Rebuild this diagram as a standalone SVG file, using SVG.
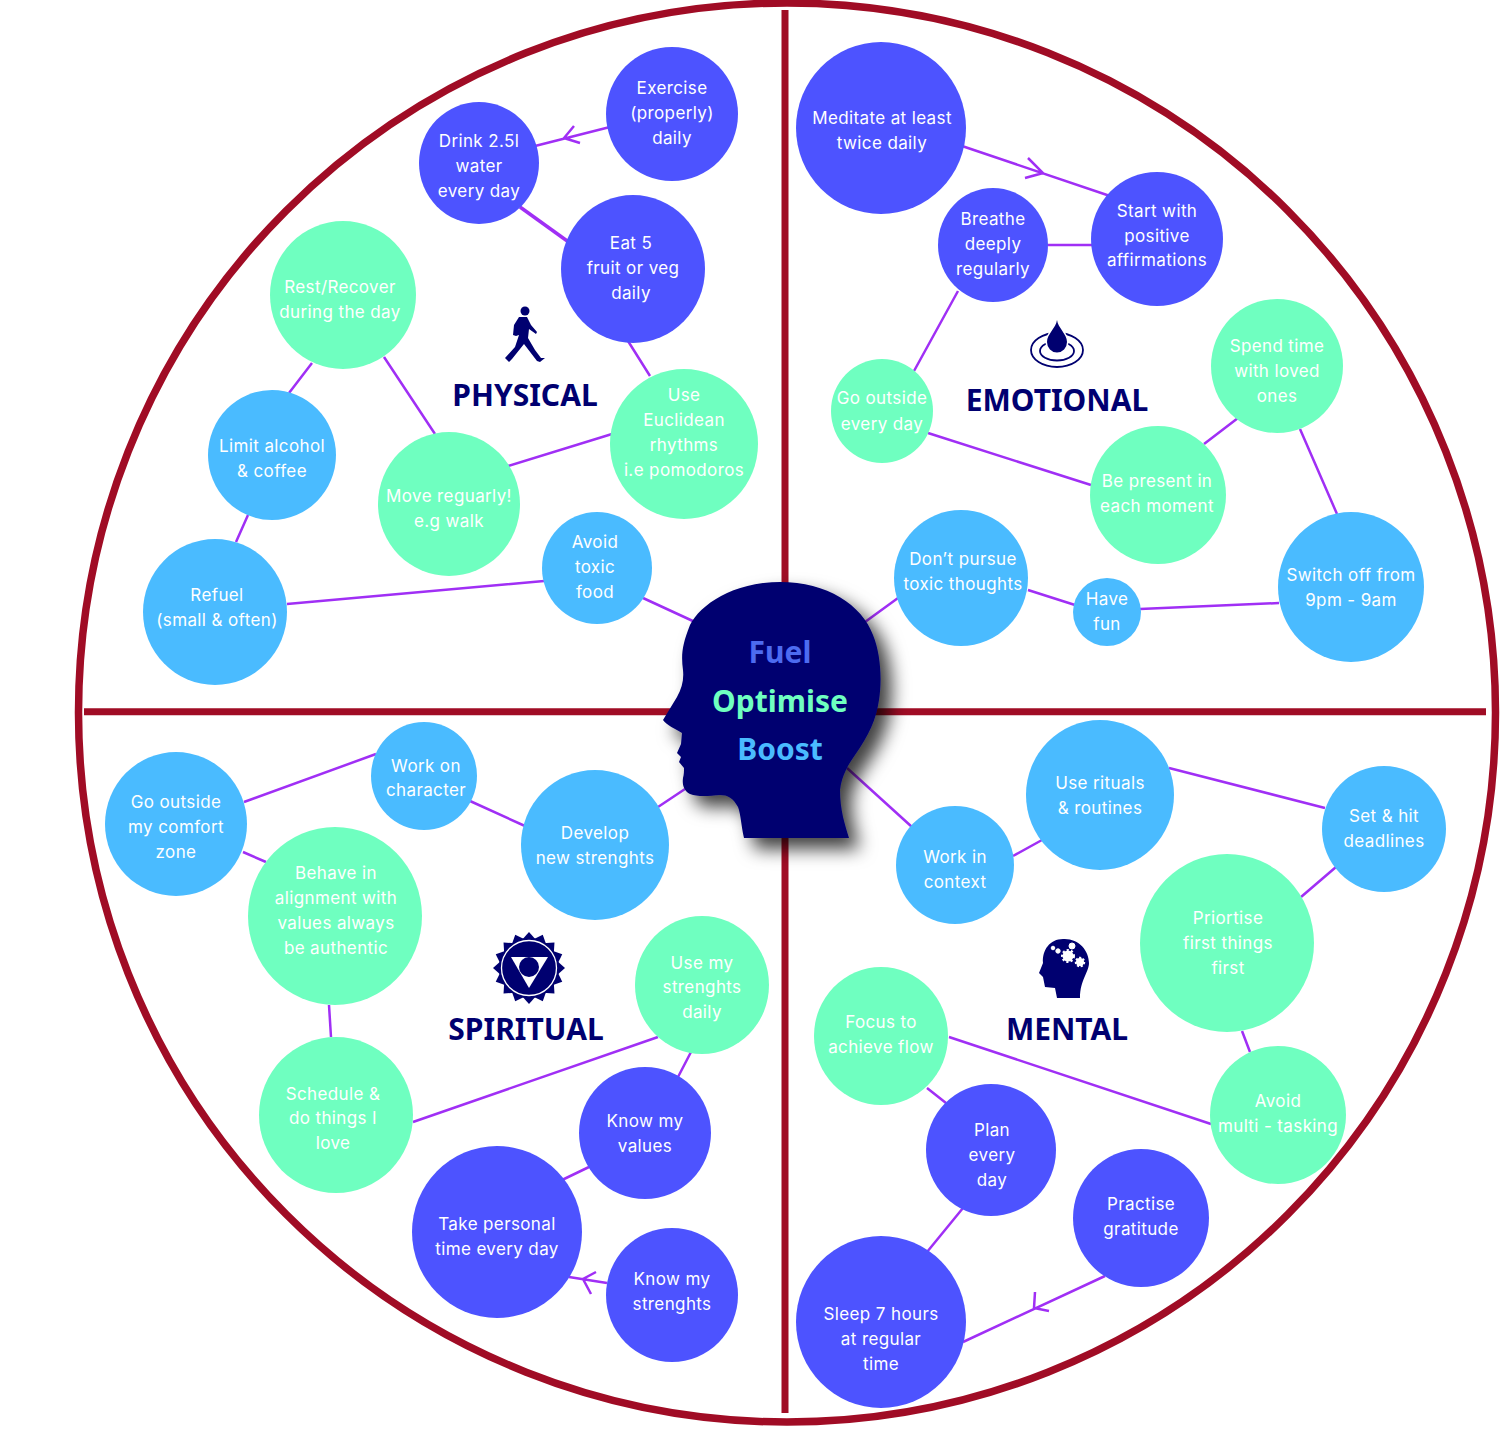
<svg xmlns="http://www.w3.org/2000/svg" width="1500" height="1447" viewBox="0 0 1500 1447">
<style>
.v{fill:#4d53ff}.g{fill:#6fffc0}.s{fill:#4abbff}
text{font-family:"Inter","Open Sans","Liberation Sans",sans-serif;font-size:17px;letter-spacing:.38px;fill:#fff;text-anchor:middle}
.h{font-family:"Noto Sans","Open Sans",sans-serif;font-weight:700;font-size:30px;letter-spacing:0;fill:#000070}
.c{font-family:"Noto Sans","Open Sans",sans-serif;font-weight:700;font-size:30px;letter-spacing:0}
#connectors path{fill:none;stroke:#a02ff5;stroke-width:2.5}
.n{fill:#000070}
</style>
<defs>
<filter id="shadow" x="-20%" y="-20%" width="150%" height="150%"><feDropShadow dx="11" dy="11" stdDeviation="9" flood-color="#000" flood-opacity="0.75"/></filter>
<polygon id="tip" points="-8,-27 0,-36 8,-27" fill="#000070"/>
</defs>
<rect width="1500" height="1447" fill="#fff"/>
<g id="wheel" fill="none" stroke="#a00c25">
<ellipse cx="787" cy="712.500" rx="708.500" ry="709.500" stroke-width="7.500"/>
<path stroke-width="7" d="M785 10V1413M84 711.700H1486"/>
</g>
<g id="connectors">
<path d="M610 127L535 146M574 126L564 138L580 143"/>
<path d="M520 207L570 243" style="stroke-width:3.500"/>
<path d="M628 341L650 376M612 434L508 466M435 434L384 357M312 363L289 393M248 515L236 542M287 604L544 581M643 598L695 622"/>
<path d="M962 146L1110 196M1028 158L1043 173L1025 178"/>
<path d="M1048 245H1092M958 291L914 371M928 433L1091 485M1204 444L1238 418M1300 429L1337 514M1279 603L1140 609M1075 605L1028 590M898 598L865 622"/>
<path d="M685 789L658 807M525 826L470 801M376 754L244 802M243 852L266 862M329 1005L331 1037M413 1122L658 1037M691 1052L678 1077M589 1167L562 1180"/>
<path d="M607 1283L569 1277M596 1272L583 1279L591 1294"/>
<path d="M847 768L912 827M1013 856L1042 840M1169 768L1325 808M1336 867L1301 897M1242 1031L1250 1052M1211 1124L949 1037M927 1088L946 1103M963 1208L927 1252"/>
<path d="M963 1342L1105 1276M1035 1292L1034 1308L1049 1311"/>
</g>
<g id="head">
<path class="n" filter="url(#shadow)" d="M744 838C741 825 741 815 738 807C733 798 728 795 720 795C708 796 698 797 690 794C684 791 682 785 683 778C684 774 684 771 684 768L679 762L681 757L677 753L681 744L682 733C676 729 666 725 663 720L677 697C682 688 684 680 683 670C681 655 682 645 690 625C700 605 733 582 780 582C827 582 862 605 873 635C881 655 882 680 879 700C876 720 869 735 855 755C848 765 842 775 840 790C840 810 845 825 849 838Z"/>
<text class="c" x="780" y="663" style="fill:#4d6bf0">Fuel</text>
<text class="c" x="780" y="712" style="fill:#6fffc0">Optimise</text>
<text class="c" x="780" y="760" style="fill:#4abbff">Boost</text>
</g>
<g id="physical-title">
<circle class="n" cx="525" cy="311" r="4.500"/>
<path class="n" d="M519 317L527 317L531 325L537 332L536 334L529 329L528 338L535 350L541 358L545 358L540 362L537 361L524 344L512 359L509 362L505 358L515 347L519 335L516 336L513 335L514 325Z"/>
<text class="h" x="525" y="406">PHYSICAL</text>
</g>
<g id="emotional-title">
<ellipse cx="1057" cy="350" rx="26" ry="17" fill="none" stroke="#000070" stroke-width="1.800"/>
<ellipse cx="1057" cy="351" rx="17" ry="9.500" fill="none" stroke="#000070" stroke-width="1.800"/>
<path class="n" stroke="#fff" stroke-width="3" paint-order="stroke" d="M1057 320C1058 328 1067 334 1067 342A10 10.500 0 0 1 1047 342C1047 334 1056 328 1057 320Z"/>
<text class="h" x="1057" y="411">EMOTIONAL</text>
</g>
<g id="spiritual-title">
<use href="#tip" transform="translate(529 968)"/><use href="#tip" transform="translate(529 968) rotate(22.500)"/><use href="#tip" transform="translate(529 968) rotate(45)"/><use href="#tip" transform="translate(529 968) rotate(67.500)"/><use href="#tip" transform="translate(529 968) rotate(90)"/><use href="#tip" transform="translate(529 968) rotate(112.500)"/><use href="#tip" transform="translate(529 968) rotate(135)"/><use href="#tip" transform="translate(529 968) rotate(157.500)"/><use href="#tip" transform="translate(529 968) rotate(180)"/><use href="#tip" transform="translate(529 968) rotate(202.500)"/><use href="#tip" transform="translate(529 968) rotate(225)"/><use href="#tip" transform="translate(529 968) rotate(247.500)"/><use href="#tip" transform="translate(529 968) rotate(270)"/><use href="#tip" transform="translate(529 968) rotate(292.500)"/><use href="#tip" transform="translate(529 968) rotate(315)"/><use href="#tip" transform="translate(529 968) rotate(337.500)"/>
<circle class="n" cx="529" cy="968" r="30"/>
<circle class="n" cx="529" cy="968" r="27.500" stroke="#fff" stroke-width="1.300"/>
<polygon points="511,957 548,957 529,988" fill="#fff"/>
<circle class="n" cx="529" cy="967" r="10"/>
<text class="h" x="526" y="1040">SPIRITUAL</text>
</g>
<g id="mental-title">
<path class="n" d="M1080 998L1057 998L1055 988L1045 987L1043 977L1039 973L1043 963C1042 950 1050 939 1063 939C1078 938 1089 950 1089 963C1089 972 1080 980 1080 998Z"/>
<g fill="#fff" stroke="#fff"><circle cx="1068" cy="956" r="5.500" stroke-width="3" stroke-dasharray="2 2"/><circle cx="1080" cy="962" r="4" stroke-width="2.500" stroke-dasharray="2 1.500"/><circle cx="1072" cy="946" r="3"/><circle cx="1058" cy="951" r="2.200"/><circle cx="1053" cy="948" r="1.800"/></g>
<text class="h" x="1067" y="1040">MENTAL</text>
</g>
<g id="n-exercise"><ellipse class="v" cx="672" cy="114" rx="66" ry="67"/><text x="672" y="94">Exercise</text><text x="672" y="119">(properly)</text><text x="672" y="144">daily</text></g>
<g id="n-drink"><ellipse class="v" cx="479" cy="163" rx="60" ry="61"/><text x="479" y="147">Drink 2.5l</text><text x="479" y="172">water</text><text x="479" y="197">every day</text></g>
<g id="n-eat"><ellipse class="v" cx="633" cy="269" rx="72" ry="74"/><text x="631" y="249">Eat 5</text><text x="633" y="274">fruit or veg</text><text x="631" y="299">daily</text></g>
<g id="n-rest"><ellipse class="g" cx="343" cy="295" rx="73" ry="74"/><text x="340" y="293">Rest/Recover</text><text x="340" y="318">during the day</text></g>
<g id="n-euclid"><ellipse class="g" cx="684" cy="444" rx="74" ry="75"/><text x="684" y="401">Use</text><text x="684" y="426">Euclidean</text><text x="684" y="451">rhythms</text><text x="684" y="476">i.e pomodoros</text></g>
<g id="n-limit"><ellipse class="s" cx="272" cy="455" rx="64" ry="65"/><text x="272" y="452">Limit alcohol</text><text x="272" y="477">&amp; coffee</text></g>
<g id="n-move"><ellipse class="g" cx="449" cy="504" rx="71" ry="72"/><text x="449" y="502">Move reguarly!</text><text x="449" y="527">e.g walk</text></g>
<g id="n-avoid-food"><ellipse class="s" cx="597" cy="568" rx="55" ry="56"/><text x="595" y="548">Avoid</text><text x="595" y="573">toxic</text><text x="595" y="598">food</text></g>
<g id="n-refuel"><ellipse class="s" cx="215" cy="612" rx="72" ry="73"/><text x="217" y="601">Refuel</text><text x="217" y="626">(small &amp; often)</text></g>
<g id="n-meditate"><ellipse class="v" cx="881" cy="128" rx="85" ry="86"/><text x="882" y="124">Meditate at least</text><text x="882" y="149">twice daily</text></g>
<g id="n-breathe"><ellipse class="v" cx="993" cy="245" rx="55" ry="57"/><text x="993" y="225">Breathe</text><text x="993" y="250">deeply</text><text x="993" y="275">regularly</text></g>
<g id="n-start"><ellipse class="v" cx="1157" cy="239" rx="66" ry="67"/><text x="1157" y="217">Start with</text><text x="1157" y="242">positive</text><text x="1157" y="266">affirmations</text></g>
<g id="n-spend"><ellipse class="g" cx="1277" cy="366" rx="66" ry="67"/><text x="1277" y="352">Spend time</text><text x="1277" y="377">with loved</text><text x="1277" y="402">ones</text></g>
<g id="n-outside"><ellipse class="g" cx="882" cy="411" rx="51" ry="52"/><text x="882" y="404">Go outside</text><text x="882" y="430">every day</text></g>
<g id="n-present"><ellipse class="g" cx="1158" cy="495" rx="68" ry="69"/><text x="1157" y="487">Be present in</text><text x="1157" y="512">each moment</text></g>
<g id="n-switch"><ellipse class="s" cx="1351" cy="587" rx="73" ry="75"/><text x="1351" y="581">Switch off from</text><text x="1351" y="606">9pm - 9am</text></g>
<g id="n-thoughts"><ellipse class="s" cx="961" cy="578" rx="67" ry="68"/><text x="963" y="565">Don’t pursue</text><text x="963" y="590">toxic thoughts</text></g>
<g id="n-fun"><ellipse class="s" cx="1107" cy="612" rx="34" ry="34"/><text x="1107" y="605">Have</text><text x="1107" y="630">fun</text></g>
<g id="n-comfort"><ellipse class="s" cx="176" cy="824" rx="71" ry="72"/><text x="176" y="808">Go outside</text><text x="176" y="833">my comfort</text><text x="176" y="858">zone</text></g>
<g id="n-character"><ellipse class="s" cx="424" cy="776" rx="53" ry="54"/><text x="426" y="772">Work on</text><text x="426" y="796">character</text></g>
<g id="n-develop"><ellipse class="s" cx="595" cy="845" rx="74" ry="75"/><text x="595" y="839">Develop</text><text x="595" y="864">new strenghts</text></g>
<g id="n-behave"><ellipse class="g" cx="335" cy="916" rx="87" ry="89"/><text x="336" y="879">Behave in</text><text x="336" y="904">alignment with</text><text x="336" y="929">values always</text><text x="336" y="954">be authentic</text></g>
<g id="n-usemy"><ellipse class="g" cx="702" cy="985" rx="67" ry="69"/><text x="702" y="969">Use my</text><text x="702" y="993">strenghts</text><text x="702" y="1018">daily</text></g>
<g id="n-schedule"><ellipse class="g" cx="336" cy="1115" rx="77" ry="78"/><text x="333" y="1100">Schedule &amp;</text><text x="333" y="1124">do things I</text><text x="333" y="1149">love</text></g>
<g id="n-values"><ellipse class="v" cx="645" cy="1133" rx="66" ry="66"/><text x="645" y="1127">Know my</text><text x="645" y="1152">values</text></g>
<g id="n-personal"><ellipse class="v" cx="497" cy="1232" rx="85" ry="86"/><text x="497" y="1230">Take personal</text><text x="497" y="1255">time every day</text></g>
<g id="n-strenghts"><ellipse class="v" cx="672" cy="1295" rx="66" ry="67"/><text x="672" y="1285">Know my</text><text x="672" y="1310">strenghts</text></g>
<g id="n-rituals"><ellipse class="s" cx="1100" cy="795" rx="74" ry="75"/><text x="1100" y="789">Use rituals</text><text x="1100" y="814">&amp; routines</text></g>
<g id="n-deadlines"><ellipse class="s" cx="1384" cy="829" rx="62" ry="63"/><text x="1384" y="822">Set &amp; hit</text><text x="1384" y="847">deadlines</text></g>
<g id="n-context"><ellipse class="s" cx="955" cy="865" rx="59" ry="59"/><text x="955" y="863">Work in</text><text x="955" y="888">context</text></g>
<g id="n-prioritise"><ellipse class="g" cx="1227" cy="943" rx="87" ry="89"/><text x="1228" y="924">Priortise</text><text x="1228" y="949">first things</text><text x="1228" y="974">first</text></g>
<g id="n-flow"><ellipse class="g" cx="881" cy="1036" rx="67" ry="69"/><text x="881" y="1028">Focus to</text><text x="881" y="1053">achieve flow</text></g>
<g id="n-multi"><ellipse class="g" cx="1278" cy="1115" rx="68" ry="69"/><text x="1278" y="1107">Avoid</text><text x="1278" y="1132">multi - tasking</text></g>
<g id="n-plan"><ellipse class="v" cx="991" cy="1150" rx="65" ry="66"/><text x="992" y="1136">Plan</text><text x="992" y="1161">every</text><text x="992" y="1186">day</text></g>
<g id="n-gratitude"><ellipse class="v" cx="1141" cy="1218" rx="68" ry="69"/><text x="1141" y="1210">Practise</text><text x="1141" y="1235">gratitude</text></g>
<g id="n-sleep"><ellipse class="v" cx="881" cy="1322" rx="85" ry="86"/><text x="881" y="1320">Sleep 7 hours</text><text x="881" y="1345">at regular</text><text x="881" y="1370">time</text></g>
</svg>
